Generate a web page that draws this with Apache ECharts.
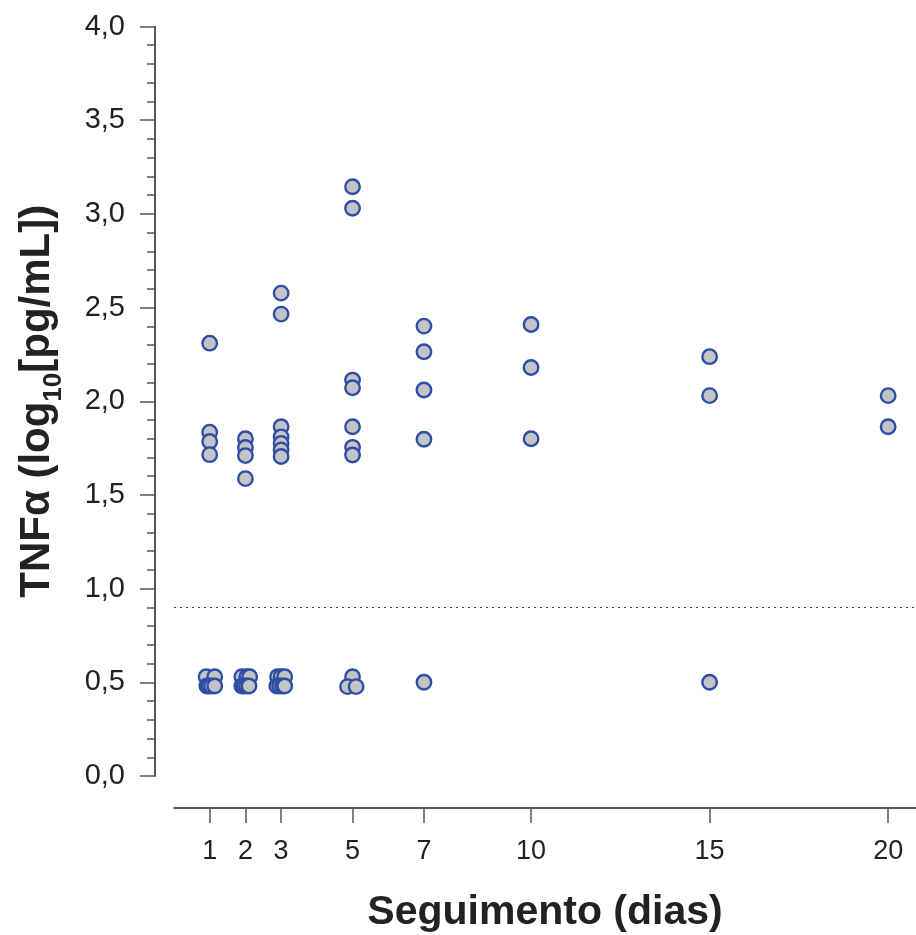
<!DOCTYPE html>
<html>
<head>
<meta charset="utf-8">
<script src="https://cdn.jsdelivr.net/npm/echarts@6/dist/echarts.min.js"></script>
<style>
    html, body { margin: 0; padding: 0; background: #fff; }
    #chart { width: 916px; height: 935px; }
</style>
</head>
<body>
<div id="chart"></div>
<script>
    // dias de seguimento (ticks do eixo x)
    var dias = [1, 2, 3, 5, 7, 10, 15, 20];

    // pontos [dia (com deslocamento), log10 TNFa]
    var dia1 = [[1, 2.31], [1, 1.835], [1, 1.785], [1, 1.715],
        [0.9, 0.53], [1.14, 0.53], [0.92, 0.48], [0.98, 0.48], [1.05, 0.48], [1.14, 0.48]];
    var dia2 = [[2, 1.80], [2, 1.753], [2, 1.71], [2, 1.587],
        [1.9, 0.53], [2.04, 0.53], [2.12, 0.53], [1.9, 0.48], [1.96, 0.48], [2.03, 0.48], [2.1, 0.48]];
    var dia3 = [[3, 2.577], [3, 2.465], [3, 1.864], [3, 1.81], [3, 1.775], [3, 1.74], [3, 1.705],
        [2.9, 0.53], [3.0, 0.53], [3.1, 0.53], [2.88, 0.48], [2.96, 0.48], [3.04, 0.48], [3.1, 0.48]];
    var dia5 = [[5, 3.145], [5, 3.03], [5, 2.113], [5, 2.072], [5, 1.864], [5, 1.754], [5, 1.713],
        [5, 0.53], [4.86, 0.477], [5.1, 0.477]];
    var dia7 = [[7, 2.401], [7, 2.264], [7, 2.06], [7, 1.797], [7, 0.50]];
    var dia10 = [[10, 2.41], [10, 2.18], [10, 1.80]];
    var dia15 = [[15, 2.238], [15, 2.03], [15, 0.50]];
    var dia20 = [[20, 2.03], [20, 1.864]];
    var limiar = 0.9;

    var pontos = [].concat(dia1, dia2, dia3, dia5, dia7, dia10, dia15, dia20);

    var chartDom = document.getElementById('chart');
    var myChart = echarts.init(chartDom);
    var option;
    var fonte = 'Liberation Sans, Arial, sans-serif';

    option = {
        backgroundColor: '#fff',
        animation: false,
        grid: {
            left: 174,
            right: 0,
            top: 26.5,
            bottom: 159,
            outerBoundsMode: 'none'
        },
        xAxis: {
            type: 'value',
            min: 0,
            max: 20.78,
            offset: 32,
            splitLine: { show: false },
            axisLine: { show: true, onZero: false, lineStyle: { color: '#222', width: 1.5 } },
            axisTick: {
                show: true,
                customValues: dias,
                length: 15,
                lineStyle: { color: '#555', width: 1.5 }
            },
            axisLabel: {
                customValues: dias,
                margin: 30,
                fontSize: 27,
                color: '#222',
                fontFamily: fonte
            },
            name: 'Seguimento (dias)',
            nameLocation: 'middle',
            nameGap: 84,
            nameMoveOverlap: false,
            nameTextStyle: {
                fontSize: 41,
                fontWeight: 'bold',
                color: '#222',
                fontFamily: fonte
            }
        },
        yAxis: {
            type: 'value',
            min: 0,
            max: 4,
            interval: 0.5,
            offset: 19,
            splitLine: { show: false },
            axisLine: { show: true, onZero: false, lineStyle: { color: '#222', width: 1.5 } },
            axisTick: { show: true, length: 15, lineStyle: { color: '#555', width: 1.5 } },
            minorTick: { show: true, splitNumber: 5, length: 8, lineStyle: { color: '#555', width: 1.5 } },
            axisLabel: {
                margin: 30,
                fontSize: 29,
                color: '#222',
                fontFamily: fonte,
                formatter: function (v) {
                    return v.toFixed(1).replace('.', ',');
                }
            },
            name: '{a|TNFα (log}{s|10}{a|[pg/mL])}',
            nameLocation: 'middle',
            nameRotate: 90,
            nameGap: 97,
            nameTextStyle: {
                color: '#222',
                fontFamily: fonte,
                rich: {
                    a: { fontSize: 42, fontWeight: 'bold', color: '#222', fontFamily: fonte },
                    s: { fontSize: 26, fontWeight: 'bold', color: '#222', fontFamily: fonte, verticalAlign: 'bottom', padding: [0, 0, -9, 0] }
                }
            }
        },
        series: [{
            type: 'scatter',
            symbol: 'circle',
            symbolSize: 14.5,
            itemStyle: {
                color: '#c3c4c8',
                borderColor: '#2d4ea4',
                borderWidth: 2.4,
                opacity: 1
            },
            data: pontos,
            markLine: {
                silent: true,
                symbol: 'none',
                label: { show: false },
                lineStyle: { color: '#444', type: [2, 4], width: 1 },
                data: [{ yAxis: limiar }]
            }
        }]
    };

    option && myChart.setOption(option);
</script>
</body>
</html>
